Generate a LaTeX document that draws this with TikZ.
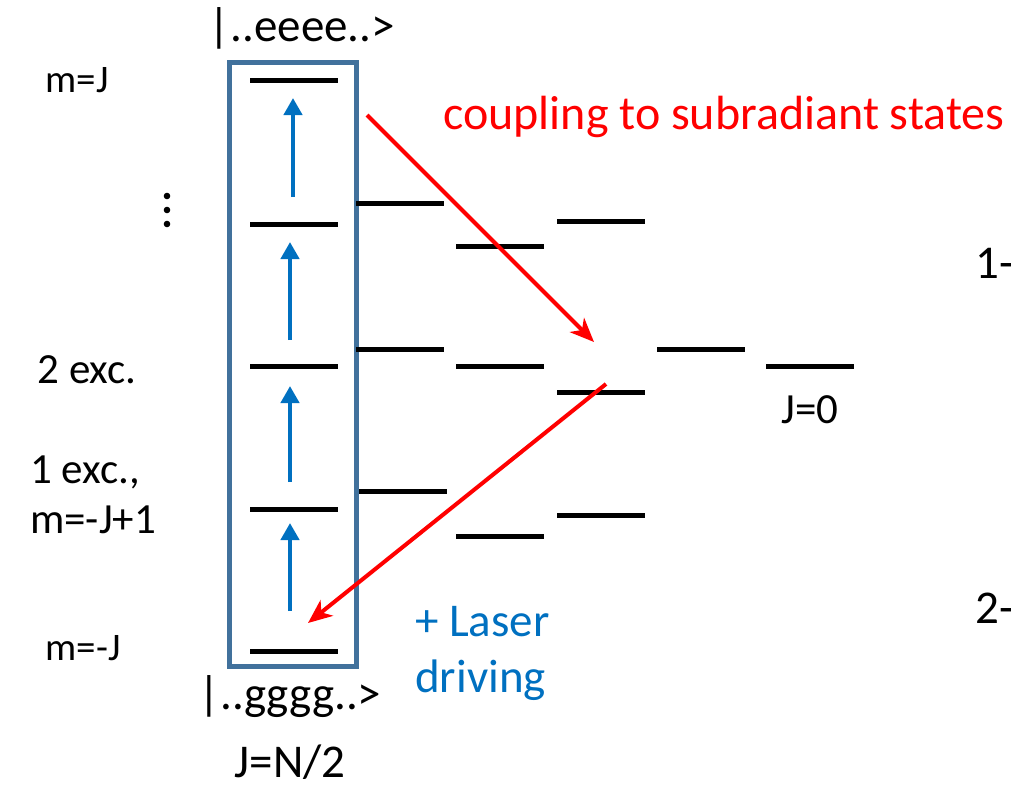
\documentclass[tikz,border=0pt]{standalone}
\usepackage{fontspec}
\setmainfont{Carlito}
\usetikzlibrary{arrows.meta,calc}
\definecolor{boxblue}{RGB}{65,113,156}
\definecolor{pumpblue}{RGB}{0,112,192}
\definecolor{coupred}{RGB}{255,0,0}

\begin{document}
\begin{tikzpicture}[x=1pt,y=-1pt,>=Latex]
\tikzset{
  lvl/.style={fill=black,inner sep=0pt,minimum width=88pt,minimum height=5pt},
  mlab/.style={font=\fontsize{39}{46}\selectfont,inner sep=0pt},
  lab/.style={font=\fontsize{43}{50}\selectfont,inner sep=0pt},
  ket/.style={font=\fontsize{47}{56}\selectfont,inner sep=0pt},
  biglab/.style={font=\fontsize{48}{56}\selectfont,inner sep=0pt},
  pump/.style={draw=pumpblue,line width=4.5pt,-{Triangle[length=17pt,width=18pt]}},
  coup/.style={draw=coupred,line width=4pt,-{Stealth[length=24pt,width=20pt,inset=7pt]}}
}
\useasboundingbox (0,0) rectangle (1011,788);
% symmetric ladder J=N/2
\draw[boxblue,line width=5pt] (229,62) rectangle (356,666);
\node[lvl] (s1) at (294,80) {};
\node[lvl] (s2) at (294,224) {};
\node[lvl] (s3) at (294,366) {};
\node[lvl] (s4) at (294,509) {};
\node[lvl] (s5) at (294,651) {};
% subradiant ladders
\node[lvl] (b1) at (400,203) {};
\node[lvl] (b2) at (400,349) {};
\node[lvl] (b3) at (403,491) {};
\node[lvl] (c1) at (500,246) {};
\node[lvl] (c2) at (500,366) {};
\node[lvl] (c3) at (500,536) {};
\node[lvl] (d1) at (601,221) {};
\node[lvl] (d2) at (601,392) {};
\node[lvl] (d3) at (601,515) {};
\node[lvl] (e1) at (701,349) {};
\node[lvl] (f1) at (810,366) {};
% laser driving
\draw[pump,shorten <=27pt,shorten >=18pt] ([xshift=-1pt]s2.center) -- ([xshift=-1pt]s1.center);
\draw[pump,shorten <=26pt,shorten >=18pt] ([xshift=-4pt]s3.center) -- ([xshift=-4pt]s2.center);
\draw[pump,shorten <=27pt,shorten >=20pt] ([xshift=-4pt]s4.center) -- ([xshift=-4pt]s3.center);
\draw[pump,shorten <=40pt,shorten >=14pt] ([xshift=-4pt]s5.center) -- ([xshift=-4pt]s4.center);
% coupling
\coordinate (t1) at (367,115);
\coordinate (h1) at (594,342);
\coordinate (t2) at (606,384);
\coordinate (h2) at (308,623);
\draw[coup] (t1) -- (h1);
\draw[coup] (t2) -- (h2);
% labels
\node[ket] (top) at (302,28) {|..eeee..>};
\node[ket] (bot) at (290,697) {|..gggg..>};
\node[ket] (jn) at (290,762) {J=N/2};
\node[lab] (j0) at (810,410) {J=0};
\node[mlab] (mj) at (77,80) {m=J};
\foreach \y in {196,210,224} \fill (167,\y) circle (3.3pt);
\node[lab] (two) at (87,370) {2 exc.};
\node[lab,align=left,anchor=west] (one) at (30,495) {1 exc.,\\m=-J+1};
\node[mlab] (mmj) at (83,648) {m=-J};
\node[biglab,text=coupred,anchor=west] (cl) at (443,117) {coupling to subradiant states};
\node[ket,text=pumpblue,align=left,anchor=north west] (ld) at (415,606) {+ Laser\\driving};
\node[ket,anchor=west] (p1) at (975,263) {1-};
\node[ket,anchor=west] (p2) at (975,608) {2-};
\end{tikzpicture}
\end{document}
